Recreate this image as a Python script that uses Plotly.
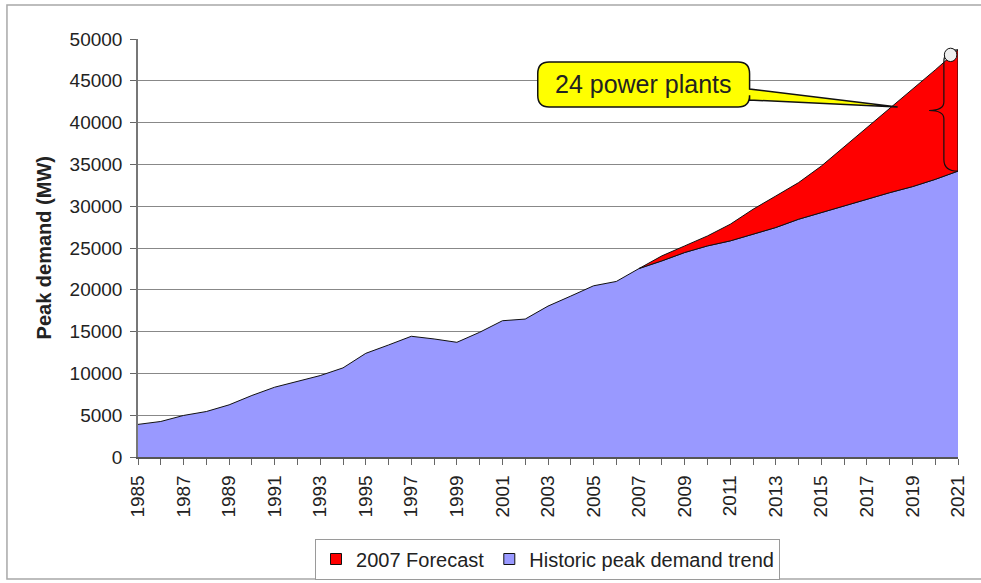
import plotly.graph_objects as go

# Peak electricity demand, MW
years = list(range(1985, 2022))
historic = [3900, 4250, 4970, 5440, 6240, 7360, 8350, 9070, 9740, 10660,
            12400, 13400, 14440, 14120, 13720, 14920, 16300, 16500, 18050, 19250,
            20480, 21000, 22550, 23460, 24460, 25250, 25850, 26650, 27450, 28440,
            29240, 29950, 30820, 31620, 32340, 33210, 34200]

forecast_years = list(range(2007, 2022))
forecast = [22550, 24060, 25250, 26440, 27840, 29630, 31220, 32820, 34800,
            37100, 39400, 41600, 43900, 46300, 48700]

tick_labels = [str(y) if (y - years[0]) % 2 == 0 else "" for y in years]
y_ticks = list(range(0, 50001, 5000))

FONT = "Liberation Sans, Arial, sans-serif"
TXT = "#222222"
BLUE = "#9999FF"
RED = "#FF0000"

fig = go.Figure()

fig.add_trace(go.Scatter(
    x=years, y=historic, mode="lines", showlegend=False,
    fill="tozeroy", fillcolor=BLUE,
    line=dict(color="#111111", width=1),
))

# forecast band between the historic trend and the 2007 forecast
i0 = years.index(forecast_years[0])
band_x = forecast_years + forecast_years[::-1]
band_y = forecast + historic[i0:][::-1]
fig.add_trace(go.Scatter(
    x=band_x, y=band_y, mode="lines", showlegend=False,
    fill="toself", fillcolor=RED,
    line=dict(color="#111111", width=1),
))

# square legend keys
for name, color in [("2007 Forecast", RED), ("Historic peak demand trend", BLUE)]:
    fig.add_trace(go.Scatter(
        x=[None], y=[None], mode="markers", name=name,
        marker=dict(symbol="square", size=11, color=color,
                    line=dict(color="#111111", width=1)),
    ))

# callout box "24 power plants" with a pointer
bx0, bx1 = 2002.55, 2011.85
by0, by1 = 41870, 47250
rx, ry = 0.5, 1400
tipx, tipy = 2018.35, 41870
w_hi, w_lo = 44020, 42700
callout = (
    f"M {bx0+rx},{by1} L {bx1-rx},{by1} Q {bx1},{by1} {bx1},{by1-ry} "
    f"L {bx1},{w_hi} L {tipx},{tipy} L {bx1},{w_lo} "
    f"L {bx1},{by0+ry} Q {bx1},{by0} {bx1-rx},{by0} "
    f"L {bx0+rx},{by0} Q {bx0},{by0} {bx0},{by0+ry} "
    f"L {bx0},{by1-ry} Q {bx0},{by1} {bx0+rx},{by1} Z"
)
shapes = [
    dict(type="path", path=callout, xref="x", yref="y", layer="above",
         fillcolor="#FFFF00", line=dict(color="#111111", width=1.5)),
]

# curly brace spanning the gap in the final year
T, B = forecast[-1], historic[-1]
xe = years[-1]
xb = xe - 0.62
xp = xe - 1.27
mid = (T + B) / 2
cy = 1400
brace = (
    f"M {xe},{T} Q {xb},{T} {xb},{T-cy} L {xb},{mid+1000} "
    f"Q {xb},{mid} {xp},{mid} Q {xb},{mid} {xb},{mid-1000} "
    f"L {xb},{B+cy} Q {xb},{B} {xe},{B}"
)
shapes.append(dict(type="path", path=brace, xref="x", yref="y", layer="above",
                   line=dict(color="#111111", width=1.2)))
shapes.append(dict(type="circle", xref="x", yref="y", layer="above",
                   x0=xe - 0.6, x1=xe - 0.05, y0=T - 1400, y1=T + 200,
                   fillcolor="#EEEEEE", line=dict(color="#111111", width=1)))

# outer chart frame
shapes.append(dict(type="rect", xref="paper", yref="paper",
                   x0=-0.1598, x1=1.033, y0=-0.2919, y1=1.0813,
                   line=dict(color="#A8A8A8", width=1.5), fillcolor="rgba(0,0,0,0)",
                   layer="below"))

annotations = [
    dict(x=(bx0 + bx1) / 2, y=(by0 + by1) / 2, xref="x", yref="y",
         text="24 power plants", showarrow=False,
         font=dict(family=FONT, size=25, color=TXT)),
    dict(x=-0.13, y=0.5, xref="paper", yref="paper", textangle=-90,
         text="<b>Peak demand (MW)</b>", showarrow=False,
         font=dict(family=FONT, size=20, color=TXT)),
]

fig.update_layout(
    width=981, height=583,
    margin=dict(l=138, r=23, t=39, b=126, autoexpand=False),
    paper_bgcolor="white", plot_bgcolor="white",
    font=dict(family=FONT, color=TXT),
    shapes=shapes, annotations=annotations,
    showlegend=True,
    legend=dict(orientation="h", x=0.4994, xanchor="center", y=-0.195,
                yanchor="top", bordercolor="#9A9A9A", borderwidth=1,
                bgcolor="white", font=dict(family=FONT, size=20, color=TXT),
                itemwidth=30, tracegroupgap=0),
    xaxis=dict(range=[years[0], years[-1]], tickmode="array",
               tickvals=years, ticktext=tick_labels, tickangle=-90,
               ticks="outside", ticklen=6, tickcolor="#666666",
               ticklabelstandoff=3,
               showline=True, linecolor="#555555", linewidth=1.5,
               showgrid=False, zeroline=False,
               tickfont=dict(family=FONT, size=19, color=TXT)),
    yaxis=dict(range=[0, 50000], tickmode="array", tickvals=y_ticks,
               tickformat="d", ticks="outside", ticklen=6, tickcolor="#666666",
               ticklabelstandoff=4,
               showline=True, linecolor="#777777", linewidth=1.5,
               showgrid=True, gridcolor="#888888", gridwidth=1,
               zeroline=False,
               tickfont=dict(family=FONT, size=19, color=TXT)),
)

fig.write_html("out.html")
